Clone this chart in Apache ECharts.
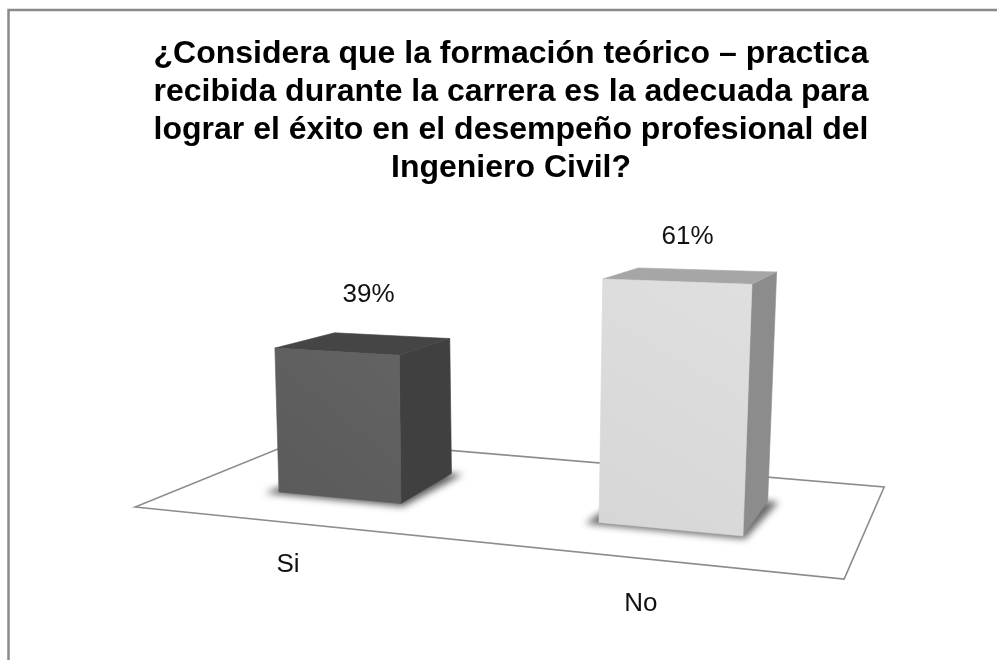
<!DOCTYPE html>
<html><head><meta charset="utf-8">
<style>html,body{margin:0;padding:0;background:#fff}#c{width:997px;height:660px}</style>
<script src="https://cdn.jsdelivr.net/npm/echarts@6/dist/echarts.min.js"></script>
</head><body><div id="c"></div>
<script>
const categories = ['Si', 'No'];
const percentages = [39, 61];
const titleLines = [
  '¿Considera que la formación teórico – practica',
  'recibida durante la carrera es la adecuada para',
  'lograr el éxito en el desempeño profesional del',
  'Ingeniero Civil?'
];

const palette = [
  { front: ['#636363', '#5a5a5a'], top: '#454545', side: '#404040', shadow: 'rgba(40,40,40,0.75)' },
  { front: ['#dfdfdf', '#d6d6d6'], top: '#a6a6a6', side: '#8c8c8c', shadow: 'rgba(70,70,70,0.8)' }
];
const FONT = '"Liberation Sans", Arial, sans-serif';

function renderFloor(params, api) {
  const o = api.coord([0, 0]);
  const band = api.size([1, 0])[0];
  const unit = o[1] - api.coord([0, 1])[1];
  const at = (u, v) => [o[0] + u * band, o[1] + v * unit];
  return {
    type: 'polygon',
    shape: { points: [at(-0.619, 4.07), at(1.523, 23.6), at(1.644, -1.36), at(-0.106, -14.6)] },
    style: { fill: '#fff', stroke: '#8c8c8c', lineWidth: 1.6 }
  };
}

function renderBar(params, api) {
  const i = api.value(0), v = api.value(1);
  const base = api.coord([i, 0]);
  const cx = base[0], y0 = base[1];
  const unit = y0 - api.coord([i, 1])[1];
  const band = api.size([1, 0])[0];
  const w = band * 0.3686 * (1 + (cx - 340) * 0.000545);
  const xl = cx - w / 2, xr = cx + w / 2;
  // oblique perspective: height grows, edges lean and depth shrinks from left to right
  const pt = (x, isTop, d) => {
    const h = isTop ? v * unit * (1 + 0.000255 * (x - 279)) : 0;
    const lean = (x - 485) * 0.000138;
    return [
      x + lean * h + d * (60 - 0.0755 * (x - 275)),
      y0 + 0.095 * (x - 279) - h + d * (-28.2 - 0.0146 * (x - 275) + 0.09 * h)
    ];
  };
  const fl = pt(xl, 0, 0), fr = pt(xr, 0, 0), br = pt(xr, 0, 1), bl = pt(xl, 0, 1);
  const tfl = pt(xl, 1, 0), tfr = pt(xr, 1, 0), tbr = pt(xr, 1, 1), tbl = pt(xl, 1, 1);
  const c = palette[i];
  const topCx = (tfl[0] + tfr[0] + tbr[0] + tbl[0]) / 4;
  const topCy = (tfl[1] + tfr[1] + tbr[1] + tbl[1]) / 4;
  const t = cx - 340;
  const poly = (points, fill, extra) => ({ type: 'polygon', shape: { points }, style: Object.assign({ fill, stroke: typeof fill === 'string' ? fill : c.front[1], lineWidth: 0.6 }, extra || {}) });
  // soft contact shadow: the casting shape sits off-canvas, only its blur lands on the floor
  const OFF = 3000;
  const shadowPts = [[fl[0] - 14, fl[1] + 1], [fr[0] + 2, fr[1] + 3], [br[0] + 11, br[1] + 1], [bl[0], bl[1]]]
    .map(p => [p[0] - OFF, p[1]]);
  return {
    type: 'group',
    children: [
      { type: 'polygon', shape: { points: shadowPts },
        style: { fill: '#000', shadowBlur: 7, shadowColor: c.shadow, shadowOffsetX: OFF } },
      poly([fr, br, tbr, tfr], c.side),
      poly([tfl, tfr, tbr, tbl], c.top),
      poly([fl, fr, tfr, tfl], new echarts.graphic.LinearGradient(1, 0, 0, 1, [
        { offset: 0, color: c.front[0] }, { offset: 1, color: c.front[1] }])),
      { type: 'text', style: {
          x: topCx + 4 - 0.027 * t, y: topCy - 49 + 0.03 * t,
          text: v + '%', font: '26px ' + FONT, fill: '#111', align: 'center', verticalAlign: 'middle' } },
      { type: 'text', style: {
          x: cx - 52 + 0.066 * t, y: y0 + 73 + 0.116 * t,
          text: categories[i], font: '26px ' + FONT, fill: '#111', align: 'center', verticalAlign: 'middle' } }
    ]
  };
}

const chart = echarts.init(document.getElementById('c'), null, { renderer: 'canvas' });
chart.setOption({
  animation: false,
  backgroundColor: '#fff',
  title: {
    text: titleLines.join('\n'),
    left: 506, top: 30, textAlign: 'center',
    textStyle: { fontFamily: FONT, fontSize: 32, fontWeight: 'bold', color: '#000', lineHeight: 38 }
  },
  grid: { left: 174.5, width: 662, top: 123, height: 369 },
  xAxis: { type: 'category', data: categories, show: false },
  yAxis: { type: 'value', min: 0, max: 100, show: false },
  graphic: [{
    type: 'polyline', silent: true,
    shape: { points: [[8.5, 660], [8.5, 10], [997, 10]] },
    style: { stroke: '#8a8a8a', lineWidth: 2.5, fill: 'none' }
  }],
  series: [
    { type: 'custom', clip: false, z: 1, renderItem: renderFloor, data: [[0, 0]], encode: { x: 0, y: 1 } },
    { type: 'custom', clip: false, z: 2, renderItem: renderBar,
      data: categories.map((c, i) => [i, percentages[i]]), encode: { x: 0, y: 1 } }
  ]
});
</script></body></html>
